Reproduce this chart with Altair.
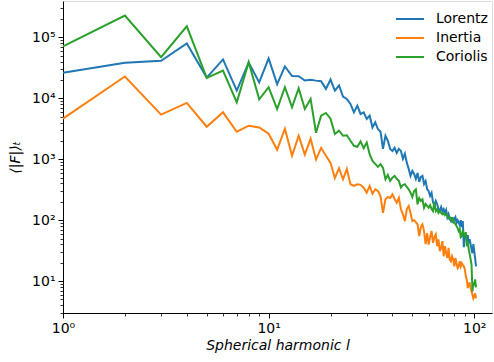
import altair as alt
import pandas as pd

# spherical harmonic degree l
l_values = list(range(1, 103))

lorentz = [26200, 38300, 41300, 79600, 21900, 43400, 13400, 38700, 18200, 45100,
           17100, 33300, 23200, 23000, 19600, 20100, 19500, 19100, 14300, 20300,
           13400, 16200, 10700, 9780, 8090, 5880, 7590, 5530, 5880, 4580,
           5190, 3330, 4030, 3130, 2830, 1480, 2430, 2010, 1480, 1370,
           1540, 1270, 1480, 1370, 1020, 1230, 873, 695, 533, 644,
           575, 475, 597, 425, 513, 533, 394, 441, 325, 301,
           249, 280, 199, 171, 207, 184, 152, 141, 164, 141,
           152, 131, 147, 112, 126, 104, 96.6, 112, 89.6, 104,
           112, 89.6, 100, 93.1, 83.0, 100, 76.9, 96.6, 36.0, 61.4,
           52.7, 48.9, 56.9, 42.0, 48.9, 40.4, 33.4, 28.7, 40.4, 31.0,
           23.8, 17.5]

inertia = [4630, 22800, 5390, 8400, 3420, 5880, 2830, 3550, 3330, 2620,
           1430, 3170, 1140, 2430, 1190, 2170, 989, 1540, 1140, 873,
           494, 713, 470, 695, 389, 365, 389, 380, 342, 283,
           365, 272, 321, 301, 249, 132, 220, 240, 231, 266,
           223, 194, 234, 151, 125, 96.6, 152, 171, 131, 96.6,
           100, 93.1, 85.3, 54.7, 76.9, 85.3, 66.2, 40.4, 61.4, 39.9,
           52.7, 66.2, 42.5, 52.7, 58.3, 37.4, 48.3, 31.0, 35.1, 45.3,
           25.6, 37.4, 28.7, 24.0, 35.1, 22.6, 21.2, 25.6, 22.9, 17.5,
           24.0, 19.6, 16.4, 17.5, 21.2, 17.5, 19.6, 18.2, 17.5, 15.7,
           12.0, 10.6, 7.69, 9.20, 9.25, 7.69, 6.79, 6.00, 5.21, 5.62,
           6.3, 5.21]

coriolis = [71100, 228000, 47400, 152000, 21700, 28600, 8590, 39200, 9640, 15200,
            6640, 15200, 7110, 14600, 6690, 9780, 2720, 5190, 5750, 4630,
            2590, 2940, 2430, 2480, 2010, 1660, 1600, 1960, 1520, 1880,
            1210, 942, 840, 750, 830, 722, 470, 553, 441, 500,
            533, 475, 441, 342, 378, 389, 351, 321, 283, 240,
            301, 321, 182, 231, 207, 220, 160, 184, 171, 160,
            177, 152, 141, 199, 141, 151, 132, 141, 132, 125,
            131, 121, 126, 117, 108, 112, 104, 96.6, 104, 89.6,
            86.3, 80.0, 74.1, 66.2, 71.3, 52.7, 54.7, 68.7, 56.9, 54.7,
            63.7, 37.4, 45.3, 33.4, 27.7, 22.9, 18.9, 6.79, 9.55, 8.53,
            10.7, 7.91]

series_names = ["Lorentz", "Inertia", "Coriolis"]
series_colors = ["#1f77b4", "#ff7f0e", "#2ca02c"]

x_major = [1, 10, 100]
x_minor = [2, 3, 4, 5, 6, 7, 8, 9, 20, 30, 40, 50, 60, 70, 80, 90]
y_major = [10, 100, 1000, 10000, 100000]
y_minor = [3, 4, 5, 6, 7, 8, 9,
           20, 30, 40, 50, 60, 70, 80, 90,
           200, 300, 400, 500, 600, 700, 800, 900,
           2000, 3000, 4000, 5000, 6000, 7000, 8000, 9000,
           20000, 30000, 40000, 50000, 60000, 70000, 80000, 90000,
           200000, 300000]

rows = []
for name, vals in zip(series_names, [lorentz, inertia, coriolis]):
    for l, v in zip(l_values, vals):
        rows.append({"l": l, "F": v, "series": name})
df = pd.DataFrame(rows)

FONT = "DejaVu Sans"
x_scale = alt.Scale(type="log", domain=[1, 122], nice=False)
y_scale = alt.Scale(type="log", domain=[3.0, 395000], nice=False)
color_scale = alt.Scale(domain=series_names, range=series_colors)

common_axis = dict(grid=False, domainColor="black", tickColor="black",
                   labelColor="black", titleColor="black", tickWidth=1,
                   domainWidth=1, labelFont=FONT, labelFontSize=14,
                   titleFont=FONT, titleFontSize=14, titleFontWeight="normal")

x_axis = alt.Axis(values=x_major, tickSize=5, labelPadding=3, labelFlush=False,
                  labelExpr="datum.value == 1 ? '10⁰' : datum.value == 10 ? '10¹' : '10²'",
                  title="Spherical harmonic l", titleFontStyle="italic", titlePadding=3,
                  orient="bottom", **common_axis)
y_axis = alt.Axis(values=y_major, tickSize=5, labelPadding=3, labelFlush=False,
                  labelExpr="datum.value == 10 ? '10¹' : datum.value == 100 ? '10²' : datum.value == 1000 ? '10³' : datum.value == 10000 ? '10⁴' : '10⁵'",
                  title="⟨|F|⟩ₜ", titleFontStyle="italic", titlePadding=9,
                  orient="left", **common_axis)

legend = alt.Legend(title=None, orient="none", legendX=332, legendY=10,
                    symbolType="stroke", symbolSize=784, symbolStrokeWidth=2,
                    clipHeight=16, rowPadding=3, labelOffset=11, padding=0,
                    labelFont=FONT, labelFontSize=14, labelColor="black")

base = alt.Chart(df)
line_layers = []
for name in series_names:
    line_layers.append(
        base.transform_filter(alt.datum.series == name)
        .mark_line(strokeWidth=2)
        .encode(
            x=alt.X("l:Q", scale=x_scale, axis=x_axis),
            y=alt.Y("F:Q", scale=y_scale, axis=y_axis),
            color=alt.Color("series:N", scale=color_scale, legend=legend),
        )
    )
lines = alt.layer(*line_layers)

minor = base.mark_point(opacity=0).encode(
    x=alt.X("l:Q", scale=x_scale,
            axis=alt.Axis(values=x_minor, labels=False, tickSize=3, domain=False,
                          grid=False, title="", orient="bottom", tickColor="black",
                          tickWidth=0.8)),
    y=alt.Y("F:Q", scale=y_scale,
            axis=alt.Axis(values=y_minor, labels=False, tickSize=3, domain=False,
                          grid=False, title="", orient="left", tickColor="black",
                          tickWidth=0.8)),
)

chart = (
    alt.layer(lines, minor)
    .resolve_axis(x="independent", y="independent")
    .properties(width=429, height=312,
                autosize=alt.AutoSizeParams(type="none"),
                padding={"left": 63, "top": 1, "right": 2, "bottom": 49})
    .configure_view(stroke="black", strokeWidth=1)
    .configure(background="white")
)

chart.save("out.html", embed_options={"renderer": "svg", "actions": False})
